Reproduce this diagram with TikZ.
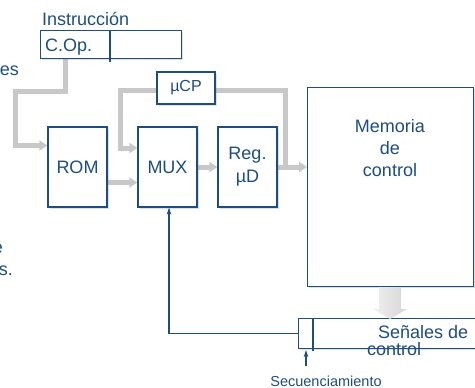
\documentclass[tikz,border=0pt]{standalone}
\usepackage{fontspec}
\setmainfont{Liberation Sans}
\usepackage{tikz}
\usetikzlibrary{arrows.meta}
\usetikzlibrary{shadows}
\usetikzlibrary{backgrounds}
\definecolor{azul}{RGB}{30,77,128}
\definecolor{bus_gris}{RGB}{200,200,200}
\tikzset{
  txt/.style = {inner sep=0pt, text=azul, font=\fontsize{18}{22}\selectfont},
  block_node/.style = {txt, rectangle, draw=azul, line width=1.2pt, fill=white,
    align=center, drop shadow={shadow xshift=1.5pt, shadow yshift=-1.5pt,
    opacity=0.25}},% caja del camino de datos
  small_txt/.style = {txt, font=\fontsize{14.5}{17}\selectfont},
  bus/.style = {draw=bus_gris, line width=5pt,
    -{Triangle[length=8pt,width=10pt]}},% camino gris
  ctrl/.style = {draw=azul, line width=1.2pt,
    -{Stealth[length=7pt,width=4.5pt]}},% linea de control
  divider/.style = {draw=azul, line width=1.2pt}
}

\begin{document}
\begin{tikzpicture}[x=1pt, y=-1pt]
  \useasboundingbox (0,0) rectangle (475,388);
  % restos de texto en el margen
  \node (frag_a) [txt, anchor=base east] at (19,75) {es};
  \node (frag_b) [txt, anchor=base east] at (3,253) {e};
  \node (frag_c) [txt, anchor=base east] at (13,275) {s.};

  % registro de instruccion
  \node (instr_lbl) [txt, anchor=base west] at (42,26) {Instrucción};
  \node (cop) [block_node, minimum width=141, minimum height=28,
    anchor=north west] at (40,30) {};
  \node (cop_txt) [txt, anchor=base west] at (45,52) {C.Op.};
  \draw[divider] (110,30) -- (110,62);

  % bloques
  \node (ucp) [block_node, font=\fontsize{16}{19}\selectfont,
    minimum width=58, minimum height=32] at (186,88) {µCP};
  \node (rom) [block_node, minimum width=59, minimum height=80] at (77.5,167) {ROM};
  \node (mux) [block_node, minimum width=59, minimum height=80] at (167.5,167) {MUX};
  \node (reg_ud) [block_node, minimum width=59, minimum height=80] at (247.5,167)
    {Reg.\\[1pt]µD};
  \node (memoria) [block_node, minimum width=166, minimum height=199,
    anchor=north west] at (307,87) {};
  \node (memoria_txt) [txt, align=center] at (390,148.5) {Memoria\\de\\control};

  % palabra de control
  \node (senales) [block_node, minimum width=200, minimum height=30,
    anchor=north west] at (298,318) {};
  \draw[divider] (313,318) -- (313,351);
  \node (senales_l1) [txt, anchor=base west] at (378,338) {Señales de};
  \node (senales_l2) [txt, anchor=base west] at (367,355) {control};
  \node (secuenc) [small_txt, anchor=base] at (326,386) {Secuenciamiento};

  % flecha ancha memoria -> señales
  \shade[left color=gray!12, right color=gray!32]
    (379,287) -- (401,287) -- (401,309) -- (407,309) -- (390,319)
    -- (373,309) -- (379,309) -- cycle;

  % caminos grises
  \coordinate (cop_out) at (65.5,58);
  \coordinate (tap) at (285.5,167);
  \begin{scope}[on background layer]
    \draw[bus] (cop_out) -- (65.5,91) -- (15.5,91) |- (rom.west |- 0,145.5);
    \draw[bus] (rom.east |- 0,182.5) -- (mux.west |- 0,182.5);
    \draw[bus] (mux.east) -- (reg_ud.west);
    \draw[bus] (reg_ud.east) -- (reg_ud.east -| memoria.west);
    \draw[bus] (tap) -- (285.5,90) -| (120.5,148) -- (mux.west |- 0,148);
  \end{scope}

  % control de secuencia
  \coordinate (sec_pie) at (306,366);
  \coordinate (sec_tip) at (306,350);
  \draw[ctrl] (senales.west) -| ([xshift=1.5pt]mux.south);
  \draw[ctrl] (sec_pie) -- (sec_tip);
\end{tikzpicture}
\end{document}
